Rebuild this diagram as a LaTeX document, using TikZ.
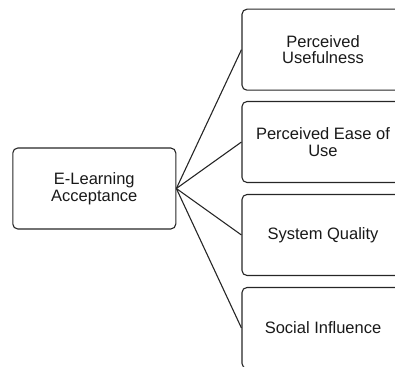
\documentclass[tikz,border=0pt]{standalone}
\usepackage{fontspec}
\setmainfont{Liberation Sans}

\tikzset{
  factor/.style={draw=black!85, line width=1.1pt, rounded corners=5pt,
    minimum width=162pt, minimum height=81pt, inner sep=0pt,
    align=center, text=black!90, font=\fontsize{16.5}{16.5}\selectfont},
  link/.style={draw=black!85, line width=1.1pt}
}

\begin{document}
\begin{tikzpicture}[x=1pt, y=-1pt]

    % Fix the page to the size of the reference
    \clip (0,0) rectangle (395,366);

    % The main construct on the left
    \node[factor, minimum width=163pt] (elearn) at (94.3,188.5) {E-Learning\\Acceptance};

    % The four factors on the right, stacked from top to bottom
    \node[factor] (useful) at (323,49.7) {Perceived\\Usefulness};
    \node[factor] (ease) at (323,142) {Perceived Ease of\\Use};
    \node[factor] (quality) at (323,235) {System Quality};
    \node[factor] (social) at (323,328) {Social Influence};

    % Connect the main construct to each factor
    \foreach \f in {useful, ease, quality, social}
        \draw[link] (elearn.east) -- (\f.west);

\end{tikzpicture}
\end{document}
